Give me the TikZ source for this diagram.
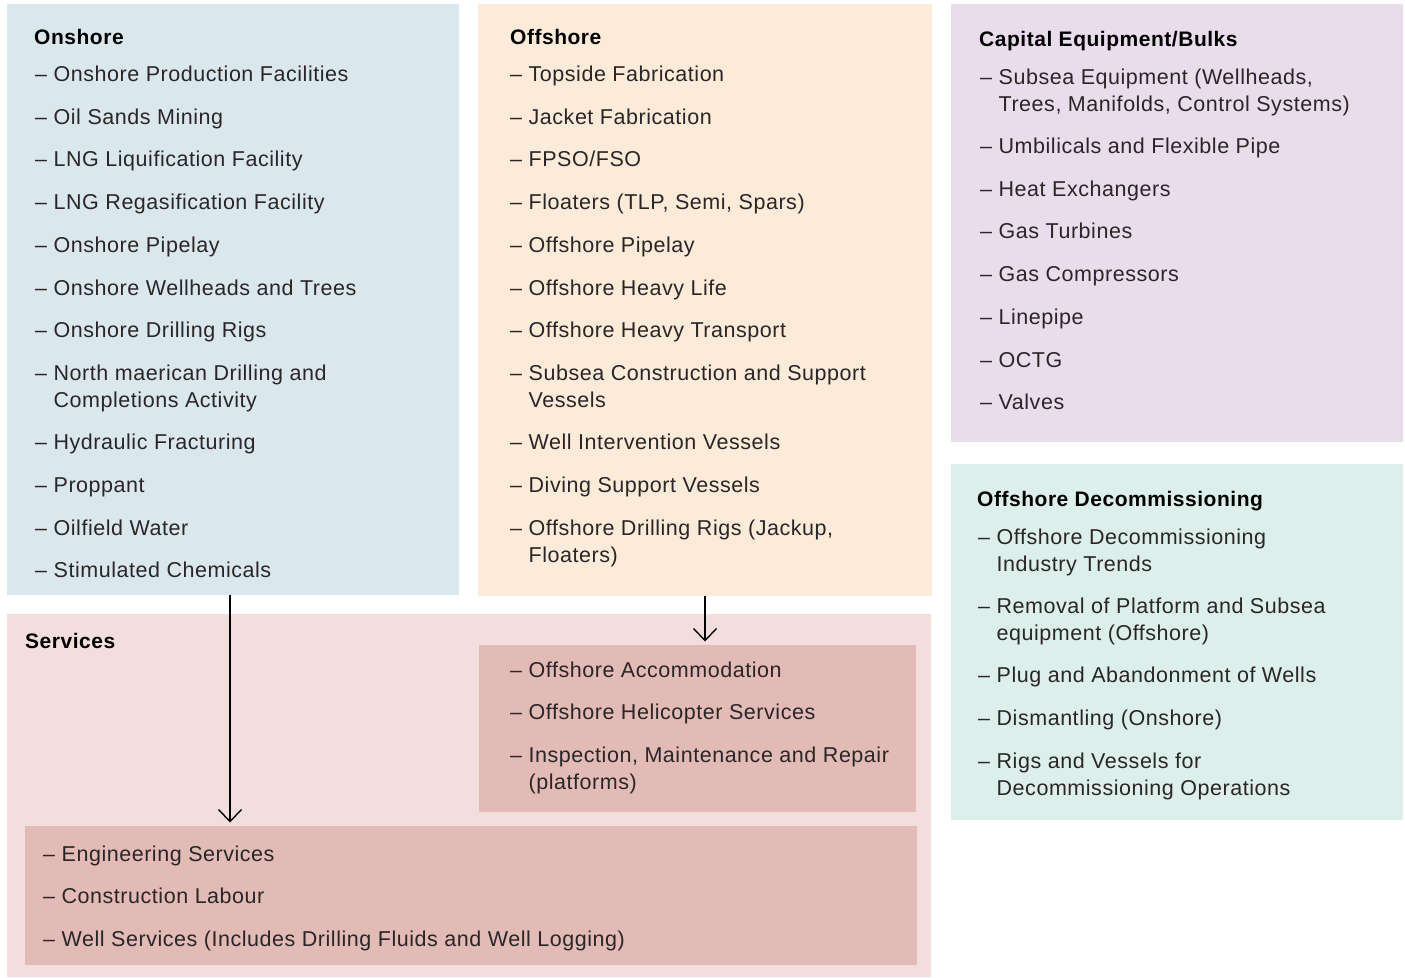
\documentclass[tikz,border=0pt]{standalone}
\usepackage{fontspec}
\setmainfont{Liberation Sans}[LetterSpace=2.5]
\usetikzlibrary{arrows.meta}
\definecolor{cOn}{HTML}{DAE8ED}
\definecolor{cOff}{HTML}{FCEBD8}
\definecolor{cCap}{HTML}{E9DDEC}
\definecolor{cDec}{HTML}{DCEFEA}
\definecolor{cSrv}{HTML}{F2DEDC}
\definecolor{cIn}{HTML}{E2BAB6}
\definecolor{txt}{HTML}{2A2627}
\newcommand{\itemfont}{\fontsize{21.5}{27}\selectfont}
\newcommand{\headfont}{\fontsize{21}{26}\selectfont\bfseries}
\newcommand{\twol}[2]{\textendash\ \begin{tabular}[t]{@{}l@{}}#1\\#2\end{tabular}}
\tikzset{
  panel/.style={draw=none, inner sep=0, anchor=north west},
  itm/.style={anchor=base west, inner sep=0, font=\itemfont, text=txt},
  head/.style={anchor=base west, inner sep=0, font=\headfont, text=black},
  arr/.style={draw=black, line width=1.4pt, -{Straight Barb[length=12pt,width=23pt,line width=1.4pt]}, shorten >=3.5pt}
}
\begin{document}
\begin{tikzpicture}[x=1pt,y=-1pt]
\useasboundingbox (0,0) rectangle (1405,977);
\fill[white] (0,0) rectangle (1405,977);
% panels
\node[panel, fill=cOn, minimum width=452pt, minimum height=591pt] (onshore) at (7,4) {};
\node[panel, fill=cOff, minimum width=454pt, minimum height=592pt] (offshore) at (478,4) {};
\node[panel, fill=cCap, minimum width=452pt, minimum height=438pt] (capital) at (951,4) {};
\node[panel, fill=cDec, minimum width=452pt, minimum height=356pt] (decomm) at (951,464) {};
\node[panel, fill=cSrv, minimum width=924pt, minimum height=363pt] (services) at (7,614) {};
\node[panel, fill=cIn, minimum width=437pt, minimum height=167pt] (offsrv) at (479,645) {};
\node[panel, fill=cIn, minimum width=892pt, minimum height=139pt] (gensrv) at (25,826) {};
% onshore
\node[head] (onh) at (34,44.5) {Onshore};
\node[itm] (on1) at (35,81.5) {\textendash\ Onshore Production Facilities};
\node[itm] (on2) at (35,124.5) {\textendash\ Oil Sands Mining};
\node[itm] (on3) at (35,166.5) {\textendash\ LNG Liquification Facility};
\node[itm] (on4) at (35,209.5) {\textendash\ LNG Regasification Facility};
\node[itm] (on5) at (35,252.5) {\textendash\ Onshore Pipelay};
\node[itm] (on6) at (35,295.5) {\textendash\ Onshore Wellheads and Trees};
\node[itm] (on7) at (35,337.5) {\textendash\ Onshore Drilling Rigs};
\node[itm] (on8) at (35,380.5) {\twol{North maerican Drilling and}{Completions Activity}};
\node[itm] (on9) at (35,449.5) {\textendash\ Hydraulic Fracturing};
\node[itm] (on10) at (35,492.5) {\textendash\ Proppant};
\node[itm] (on11) at (35,535.5) {\textendash\ Oilfield Water};
\node[itm] (on12) at (35,577.5) {\textendash\ Stimulated Chemicals};
% offshore
\node[head] (offh) at (510,44.5) {Offshore};
\node[itm] (of1) at (510,81.5) {\textendash\ Topside Fabrication};
\node[itm] (of2) at (510,124.5) {\textendash\ Jacket Fabrication};
\node[itm] (of3) at (510,166.5) {\textendash\ FPSO/FSO};
\node[itm] (of4) at (510,209.5) {\textendash\ Floaters (TLP, Semi, Spars)};
\node[itm] (of5) at (510,252.5) {\textendash\ Offshore Pipelay};
\node[itm] (of6) at (510,295.5) {\textendash\ Offshore Heavy Life};
\node[itm] (of7) at (510,337.5) {\textendash\ Offshore Heavy Transport};
\node[itm] (of8) at (510,380.5) {\twol{Subsea Construction and Support}{Vessels}};
\node[itm] (of9) at (510,449.5) {\textendash\ Well Intervention Vessels};
\node[itm] (of10) at (510,492.5) {\textendash\ Diving Support Vessels};
\node[itm] (of11) at (510,535.5) {\twol{Offshore Drilling Rigs (Jackup,}{Floaters)}};
% capital
\node[head] (caph) at (979,46.5) {Capital Equipment/Bulks};
\node[itm] (ca1) at (980,84.5) {\twol{Subsea Equipment (Wellheads,}{Trees, Manifolds, Control Systems)}};
\node[itm] (ca2) at (980,153.5) {\textendash\ Umbilicals and Flexible Pipe};
\node[itm] (ca3) at (980,196.5) {\textendash\ Heat Exchangers};
\node[itm] (ca4) at (980,238.5) {\textendash\ Gas Turbines};
\node[itm] (ca5) at (980,281.5) {\textendash\ Gas Compressors};
\node[itm] (ca6) at (980,324.5) {\textendash\ Linepipe};
\node[itm] (ca7) at (980,367.5) {\textendash\ OCTG};
\node[itm] (ca8) at (980,409.5) {\textendash\ Valves};
% decommissioning
\node[head] (dch) at (977,506.5) {Offshore Decommissioning};
\node[itm] (dc1) at (978,544.5) {\twol{Offshore Decommissioning}{Industry Trends}};
\node[itm] (dc2) at (978,613.5) {\twol{Removal of Platform and Subsea}{equipment (Offshore)}};
\node[itm] (dc3) at (978,682.5) {\textendash\ Plug and Abandonment of Wells};
\node[itm] (dc4) at (978,725.5) {\textendash\ Dismantling (Onshore)};
\node[itm] (dc5) at (978,768.5) {\twol{Rigs and Vessels for}{Decommissioning Operations}};
% services
\node[head] (srvh) at (25,648.5) {Services};
\node[itm] (os1) at (510,677.5) {\textendash\ Offshore Accommodation};
\node[itm] (os2) at (510,719.5) {\textendash\ Offshore Helicopter Services};
\node[itm] (os3) at (510,762.5) {\twol{Inspection, Maintenance and Repair}{(platforms)}};
\node[itm] (gs1) at (43,861.5) {\textendash\ Engineering Services};
\node[itm] (gs2) at (43,903.5) {\textendash\ Construction Labour};
\node[itm] (gs3) at (43,946.5) {\textendash\ Well Services (Includes Drilling Fluids and Well Logging)};
% connectors
\coordinate (ax1) at (230,0);
\coordinate (ax2) at (705,0);
\draw[arr] (onshore.south -| ax1) -- (gensrv.north -| ax1);
\draw[arr] (offshore.south -| ax2) -- (offsrv.north -| ax2);
\end{tikzpicture}
\end{document}
